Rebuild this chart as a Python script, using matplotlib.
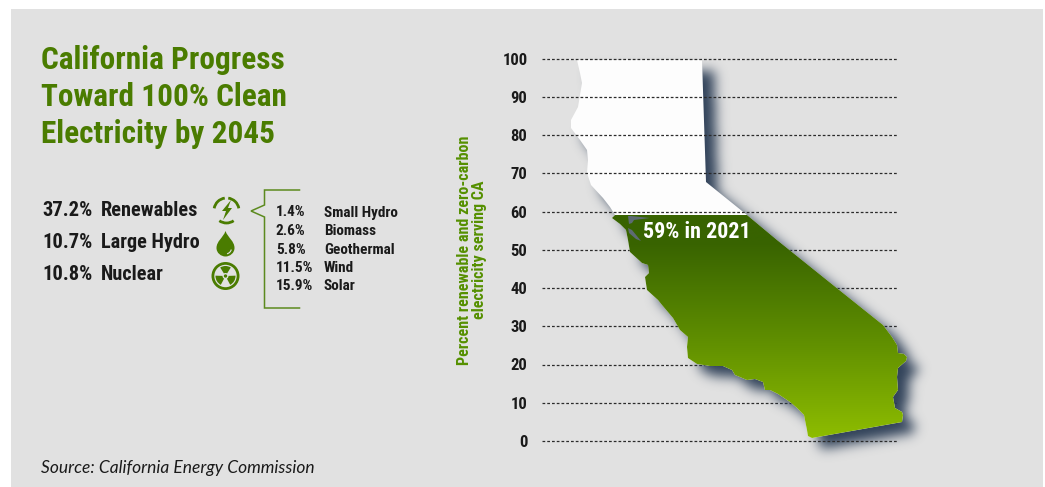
import numpy as np
import matplotlib
matplotlib.use("Agg")
import matplotlib.pyplot as plt
from matplotlib import font_manager as fm
from matplotlib.colors import LinearSegmentedColormap
from matplotlib.patches import Polygon, Circle, Arc, Wedge, PathPatch, Rectangle
from matplotlib.path import Path

W, H = 1045, 487

# --- chart values -------------------------------------------------------
percent_ticks = [0, 10, 20, 30, 40, 50, 60, 70, 80, 90, 100]
clean_share_2021 = 59

headline_values = ["37.2%", "10.7%", "10.8%"]
headline_names = ["Renewables", "Large Hydro", "Nuclear"]
renewable_values = ["1.4%", "2.6%", "5.8%", "11.5%", "15.9%"]
renewable_names = ["Small Hydro", "Biomass", "Geothermal", "Wind", "Solar"]

title_lines = ["California Progress", "Toward 100% Clean", "Electricity by 2045"]
axis_label = "Percent renewable and zero-carbon\nelectricity serving CA"
source_note = "Source: California Energy Commission"

# State outline in map units, traced clockwise from the north-west corner
outline_x = [577, 702, 706, 747, 777, 833, 883, 889, 892, 897, 898, 904, 907, 906, 898, 897,
             898, 893, 895, 902, 903, 902, 812, 808, 807, 804, 797, 790, 778, 770, 765, 763, 755,
             747, 735, 732, 723, 710, 697, 688, 687, 688, 680, 673, 662, 658, 647, 645,
             649, 648, 642, 630, 628, 626, 620, 612, 615, 610, 603, 591, 587, 588, 587, 580, 571,
             571, 578, 582, 580]
outline_y = [60, 60, 182, 215, 240, 285, 325, 333, 337, 345, 353, 354, 357, 361, 368, 377,
             390, 397, 408, 412, 415, 422, 438, 436, 430, 415, 408, 402, 394, 390, 390, 382, 379,
             380, 375, 370, 366, 366, 364, 358, 347, 337, 330, 318, 305, 300, 290, 277,
             273, 265, 263, 252, 240, 230, 224, 218, 215, 207, 198, 185, 173, 160, 150, 140, 128,
             120, 107, 83, 73]
# San Francisco Bay and its northern arm
bay_x = [628, 631, 650, 634, 632, 629]
bay_y = [216, 216, 218, 220, 223, 224]
delta_x = [628, 632, 641, 636, 629]
delta_y = [228, 230, 241, 239, 233]

MAP_ZERO, MAP_PER_PERCENT, MAP_LEFT = 441.0, 3.825, 542.0


def map_to_chart(x, y):
    """Convert map units to chart coordinates (x offset, percent)."""
    return np.asarray(x, float) - MAP_LEFT, (MAP_ZERO - np.asarray(y, float)) / MAP_PER_PERCENT


def first_family(*names):
    have = {f.name for f in fm.fontManager.ttflist}
    for n in names:
        if n in have:
            return n
    return "DejaVu Sans"


NARROW = first_family("Liberation Sans Narrow", "Roboto Condensed", "Noto Sans", "Roboto")
ITALIC = first_family("Lato", "Open Sans")

GREEN = "#4a7c00"
LABEL_GREEN = "#559000"
LINE_GREEN = "#5c8a1e"
PANEL = "#e1e1e1"
INK = "#1a1a1a"

fig = plt.figure(figsize=(W / 100, H / 100), dpi=100, facecolor="white")

# Overlay in pixel units for the panel, text block and icons
page = fig.add_axes([0, 0, 1, 1])
page.set_xlim(0, W)
page.set_ylim(H, 0)
page.axis("off")
page.set_zorder(0)
page.add_patch(Rectangle((11, 9), 1032, H - 9, fc=PANEL, ec="none", zorder=0))

# Chart axes: x runs along the gridlines, y is percent
chart = fig.add_axes([542 / W, (H - 441) / H, 356 / W, 382.5 / H])
chart.patch.set_visible(False)
chart.set_zorder(1)
for s in chart.spines.values():
    s.set_visible(False)
chart.set_xticks([])
chart.set_yticks(percent_ticks)
chart.tick_params(axis="y", length=0, pad=10.5)
for lab in chart.get_yticklabels():
    lab.set_fontfamily(NARROW)
    lab.set_fontweight("bold")
    lab.set_fontsize(12)
    lab.set_color(INK)

sx, sy = map_to_chart(outline_x, outline_y)
state_xy = np.column_stack([sx, sy])
state_path = Path(np.vstack([state_xy, state_xy[:1]]), closed=True)

# Soft drop shadow: rasterise the outline, shift it and blur it
px_x = np.arange(-20, 400)
px_y = np.arange(-20, 115, 1 / MAP_PER_PERCENT)
gx, gy = np.meshgrid(px_x, px_y)
OFF_X, OFF_Y = 12, 11
inside = state_path.contains_points(
    np.column_stack([(gx - OFF_X).ravel(), (gy + OFF_Y / MAP_PER_PERCENT).ravel()])
).reshape(gx.shape).astype(float)
sigma = 6.0
kx = np.arange(-20, 21)
kernel = np.exp(-kx ** 2 / (2 * sigma ** 2))
kernel /= kernel.sum()
blur = np.apply_along_axis(lambda r: np.convolve(r, kernel, mode="same"), 0, inside)
blur = np.apply_along_axis(lambda r: np.convolve(r, kernel, mode="same"), 1, blur)
shadow = np.zeros(gx.shape + (4,))
shadow[..., :3] = matplotlib.colors.to_rgb("#2b3d55")
shadow[..., 3] = np.clip(blur, 0, 1) * 0.97

# Gridlines below the clean-energy level run under the shadow, the rest over it
DASH = (0, (2.2, 1.6))
for v in percent_ticks:
    z = 5 if v >= 60 or v == 0 else 1
    chart.plot([0, 356], [v, v], color="#2b2b2b", lw=0.9, ls=DASH, zorder=z,
               dash_capstyle="butt", clip_on=False)

chart.imshow(shadow, origin="lower", aspect="auto", zorder=2, clip_on=False,
             extent=(px_x[0], px_x[-1], px_y[0], px_y[-1]), interpolation="bilinear")

# White state silhouette with the achieved share filled in green
chart.add_patch(Polygon(state_xy, closed=True, fc="#fdfdfd", ec="none", zorder=3, clip_on=False))
green_map = LinearSegmentedColormap.from_list(
    "clean", [(0, "#8fbe00"), (0.45, "#5f8e00"), (0.88, "#386300"), (1, "#386300")])
ramp = np.linspace(0, 1, 256).reshape(-1, 1)
fill = chart.imshow(ramp, origin="lower", aspect="auto", cmap=green_map, zorder=6,
                    extent=(0, 380, 0, clean_share_2021))
fill.set_clip_box(fig.bbox)
fill.set_clip_path(Polygon(state_xy, closed=True, transform=chart.transData))
chart.set_xlim(0, 356)
chart.set_ylim(0, 100)

for xs, ys in [(bay_x, bay_y), (delta_x, delta_y)]:
    bx, by = map_to_chart(xs, ys)
    chart.add_patch(Polygon(np.column_stack([bx, by]), closed=True, fc="#5d6b73", ec="none", zorder=7))

chart.text(map_to_chart(696.5, 0)[0], clean_share_2021 - 4.4, f"{clean_share_2021}% in 2021",
           color="white", fontsize=15.8, fontweight="bold", family=NARROW,
           ha="center", va="center", zorder=8)

# Rotated axis label sits left of the tick labels
page.text(472, 250, axis_label, rotation=90, ha="center", va="center", color=LABEL_GREEN,
          fontsize=11.6, fontweight="bold", family=NARROW, linespacing=1.05)

# Title
for i, line in enumerate(title_lines):
    page.text(41, 60 + 37 * i, line, color=GREEN, fontsize=22.5, fontweight="bold",
              family=NARROW, va="center", ha="left")

# Headline shares
for i, (v, n) in enumerate(zip(headline_values, headline_names)):
    y = 211 + 32 * i
    page.text(42, y, v, fontsize=14.8, fontweight="bold", family=NARROW, color=INK, va="center")
    page.text(101, y, n, fontsize=14.6, fontweight="bold", family=NARROW, color=INK, va="center")

# Renewables breakdown
for i, (v, n) in enumerate(zip(renewable_values, renewable_names)):
    y = 212.5 + 18.5 * i
    page.text(276, y, v, fontsize=11, fontweight="bold", family=NARROW, color=INK, va="center")
    page.text(324, y, n, fontsize=11, fontweight="bold", family=NARROW, color=INK, va="center")

# Bracket tying the breakdown to the renewables row
page.plot([299.5, 264.5, 264.5, 251, 264.5, 264.5, 299.5], [190, 190, 205, 211, 217, 308, 308],
          color=LINE_GREEN, lw=1.1, solid_joinstyle="miter")

# Renewables icon: broken ring with a lightning bolt (page y axis is flipped)
ic = (226.5, 210.5)
for a, b in [(190, 262), (278, 350), (55, 125)]:
    page.add_patch(Arc(ic, 25, 25, theta1=a, theta2=b, color=GREEN, lw=2))
page.add_patch(Polygon([(231, 200), (222, 211), (226, 211), (223, 220), (232, 208), (228, 208)],
                       closed=True, fc=GREEN, ec="none"))

# Drop icon with a small highlight
drop = Path([(225.5, 231), (223, 238), (216.5, 241), (216.5, 248), (216.5, 253), (221, 256.5), (225.5, 256.5),
             (230, 256.5), (234.5, 253), (234.5, 248), (234.5, 241), (228, 238), (225.5, 231)],
            [Path.MOVETO] + [Path.CURVE4] * 12)
page.add_patch(PathPatch(drop, fc=GREEN, ec="none"))
page.add_patch(Arc((225.5, 248), 12, 12, theta1=15, theta2=75, color=PANEL, lw=0.8))

# Nuclear icon: ring with trefoil, blades at the top and lower left and right
nc = (225.5, 276)
page.add_patch(Circle(nc, 12.6, fc="none", ec=GREEN, lw=2))
for a in (270, 30, 150):
    page.add_patch(Wedge(nc, 10, a - 32, a + 32, width=7, fc=GREEN, ec="none"))
page.add_patch(Circle(nc, 1.7, fc=GREEN, ec="none"))

# Source note
page.text(41, 467.5, source_note, fontsize=12.55, style="italic", family=ITALIC, color=INK, va="center")

fig.savefig("out.png", dpi=100, facecolor="white")
